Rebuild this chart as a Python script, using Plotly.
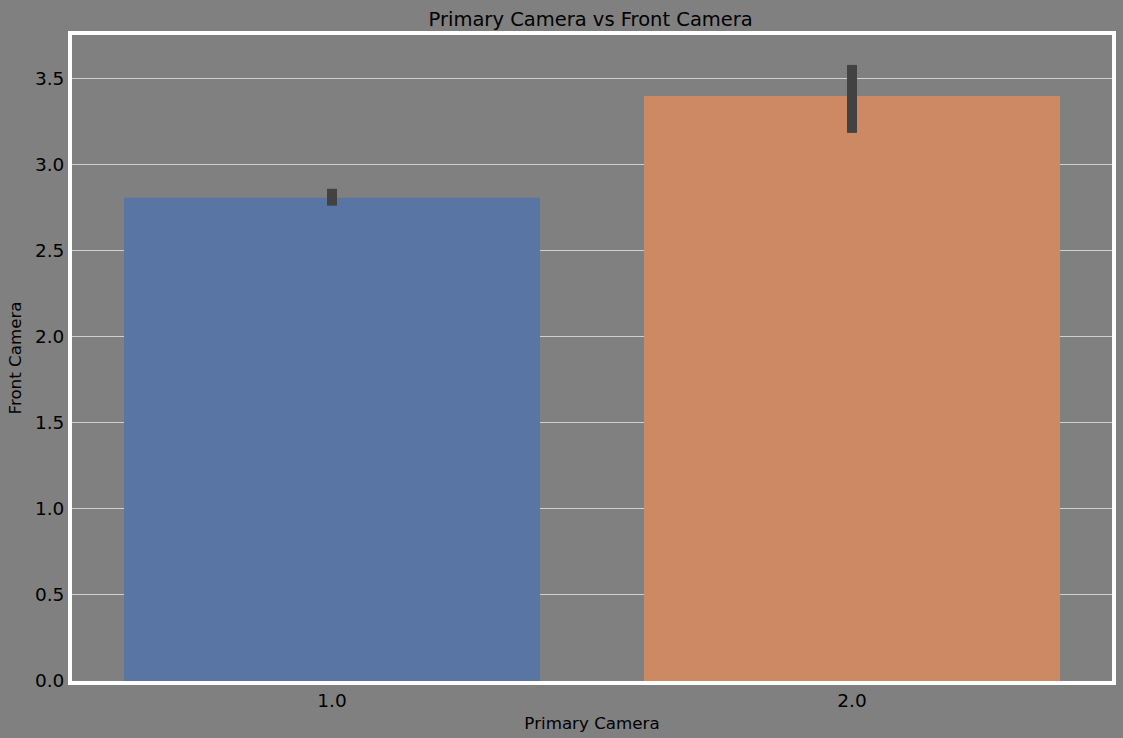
import plotly.graph_objects as go

categories = ["1.0", "2.0"]
front_camera_mean = [2.809, 3.401]
ci_upper = [2.861, 3.581]
ci_lower = [2.763, 3.186]
bar_colors = ["#5875a4", "#cc8963"]

err_plus = [u - m for u, m in zip(ci_upper, front_camera_mean)]
err_minus = [m - l for m, l in zip(front_camera_mean, ci_lower)]

fig = go.Figure()
fig.add_trace(go.Bar(
    x=categories, y=front_camera_mean,
    marker=dict(color=bar_colors, line=dict(width=0)),
    width=0.8,
    error_y=dict(type="data", array=err_plus, arrayminus=err_minus,
                 color="#424242", thickness=10, width=0),
))

fig.update_layout(
    width=1123, height=738,
    paper_bgcolor="#808080", plot_bgcolor="#808080",
    margin=dict(l=72, r=7, t=35, b=53),
    font=dict(family="DejaVu Sans", color="black"),
    title=dict(text="Primary Camera vs Front Camera", x=0.526, xanchor="center",
               y=0.974, yanchor="middle", font=dict(size=19.5)),
    showlegend=False,
    bargap=0.2,
)
fig.update_xaxes(
    type="category", range=[-0.5, 1.5],
    title=dict(text="Primary Camera", font=dict(size=16.7), standoff=8),
    tickfont=dict(size=18.5), showgrid=False,
    showline=True, linecolor="white", linewidth=4, mirror=True,
    ticks="", ticklen=0,
)
fig.update_yaxes(
    range=[0, 3.755], dtick=0.5, tickformat=".1f",
    title=dict(text="Front Camera", font=dict(size=16.7), standoff=10),
    tickfont=dict(size=18.5), showgrid=True, gridcolor="#d0d0d0", gridwidth=1.2,
    showline=True, linecolor="white", linewidth=4, mirror=True,
    zeroline=False, ticks="", ticklen=0,
)

fig.write_html("out.html", config={"displayModeBar": False},
               post_script="document.body.style.margin='0';document.body.style.overflow='hidden';")
